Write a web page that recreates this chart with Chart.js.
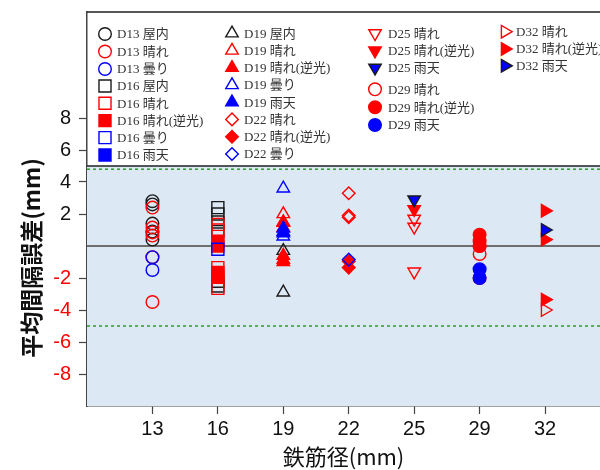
<!DOCTYPE html>
<html>
<head>
<meta charset="utf-8">
<script src="https://cdn.jsdelivr.net/npm/chart.js@4.4.0/dist/chart.umd.min.js"></script>
<style>body{margin:0;background:#fff}</style>
</head>
<body>
<canvas id="myChart" width="600" height="470"></canvas>
<script>
// Rebar diameters (x categories) and y tick labels
const sizes = ["13", "16", "19", "22", "25", "29", "32"];
const yTicks = [-8, -6, -4, -2, 2, 4, 6, 8];
const limits = [4.8, -5];

// mean spacing error (mm) per series
const d13Indoor = [2.8, 2.6, 1.4, 0.9, 0.4];
const d13Sunny = [2.4, 1.15, 0.85, 0.65, -0.7, -3.5];
const d13Cloudy = [-0.7, -1.5];
const d16Indoor = [2.4, 2.0, 1.5, 0.9, -2.2, -2.5];
const d16Sunny = [1.35, 1.0, -1.35, -2.65];
const d16Backlit = [0.3, 0.0, -1.65, -1.95];
const d16Cloudy = [-0.2];
const d16Rain = [];
const d19Indoor = [-0.3, -2.9];
const d19Sunny = [2.0, 1.5];
const d19Backlit = [1.45, 1.15, -0.6, -0.85, -1.0];
const d19Cloudy = [3.6, 0.9, 0.6];
const d19Rain = [1.1, 0.8];
const d22Sunny = [3.3, 1.9, 1.8];
const d22Backlit = [-0.95, -1.35];
const d22Cloudy = [-0.85];
const d25Sunny = [1.7, 1.2, -1.6];
const d25Backlit = [2.3];
const d25Rain = [2.9];
const d29Sunny = [0.0, -0.5, -2.0];
const d29Backlit = [0.7, 0.3, 0.0];
const d29Rain = [-1.45, -2.0];
const d32Sunny = [-4.0];
const d32Backlit = [2.2, 0.4, -3.35];
const d32Rain = [1.0];

const BLACK = "#1a1a1a", RED = "#ff0000", BLUE = "#0000ff";

// label, values, marker, rotation, colour, filled, edge
const series = [
  ["D13 屋内", d13Indoor, "circle", 0, BLACK, false],
  ["D13 晴れ", d13Sunny, "circle", 0, RED, false],
  ["D13 曇り", d13Cloudy, "circle", 0, BLUE, false],
  ["D16 屋内", d16Indoor, "rect", 0, BLACK, false],
  ["D16 晴れ", d16Sunny, "rect", 0, RED, false],
  ["D16 晴れ(逆光)", d16Backlit, "rect", 0, RED, true],
  ["D16 曇り", d16Cloudy, "rect", 0, BLUE, false],
  ["D16 雨天", d16Rain, "rect", 0, BLUE, true],
  ["D19 屋内", d19Indoor, "triangle", 0, BLACK, false],
  ["D19 晴れ", d19Sunny, "triangle", 0, RED, false],
  ["D19 晴れ(逆光)", d19Backlit, "triangle", 0, RED, true],
  ["D19 曇り", d19Cloudy, "triangle", 0, BLUE, false],
  ["D19 雨天", d19Rain, "triangle", 0, BLUE, true],
  ["D22 晴れ", d22Sunny, "rectRot", 0, RED, false],
  ["D22 晴れ(逆光)", d22Backlit, "rectRot", 0, RED, true],
  ["D22 曇り", d22Cloudy, "rectRot", 0, BLUE, false],
  ["D25 晴れ", d25Sunny, "triangle", 180, RED, false],
  ["D25 晴れ(逆光)", d25Backlit, "triangle", 180, RED, true],
  ["D25 雨天", d25Rain, "triangle", 180, BLUE, true, BLACK],
  ["D29 晴れ", d29Sunny, "circle", 0, RED, false],
  ["D29 晴れ(逆光)", d29Backlit, "circle", 0, RED, true],
  ["D29 雨天", d29Rain, "circle", 0, BLUE, true],
  ["D32 晴れ", d32Sunny, "triangle", 90, RED, false],
  ["D32 晴れ(逆光)", d32Backlit, "triangle", 90, RED, true],
  ["D32 雨天", d32Rain, "triangle", 90, BLUE, true, BLACK],
];

const radiusFor = { circle: 6.3, rect: 8.5, triangle: 7.2, rectRot: 6.3 };

const datasets = series.map((s, i) => {
  const [label, vals, style, rot, color, filled, edge] = s;
  const xi = sizes.indexOf(label.slice(1, 3)) + 1;
  return {
    label: label,
    data: vals.map((v) => ({ x: xi, y: v })),
    pointStyle: style,
    rotation: rot,
    radius: radiusFor[style],
    borderWidth: 1.4,
    borderColor: edge || color,
    backgroundColor: filled ? color : "rgba(0,0,0,0)",
    order: -i,
  };
});

// legend placement: [markerX, textX, rowYs]
const legendCols = [
  [105, 117, [34, 51.5, 69, 86, 103.3, 120.6, 137.6, 155]],
  [232, 244, [33.3, 50.5, 67.8, 85, 102.2, 119.4, 136.7, 154]],
  [375, 388, [33.3, 50.6, 67.8, 89.3, 107.2, 125]],
  [505, 516, [31.7, 49, 65.8]],
];
const legendSplit = [8, 8, 6, 3];

const boxBottom = 5.0;

const decor = {
  id: "decor",
  beforeDatasetsDraw(chart) {
    const { ctx, chartArea: a, scales: { y } } = chart;
    const yb = y.getPixelForValue(boxBottom);
    ctx.save();
    ctx.fillStyle = "#dce9f5";
    ctx.fillRect(a.left, yb, a.right - a.left, a.bottom - yb);
    ctx.strokeStyle = "#2f9a2f";
    ctx.lineWidth = 1.5;
    ctx.setLineDash([3, 3]);
    limits.forEach((v) => {
      const py = y.getPixelForValue(v);
      ctx.beginPath();
      ctx.moveTo(a.left, py);
      ctx.lineTo(a.right, py);
      ctx.stroke();
    });
    ctx.setLineDash([]);
    ctx.strokeStyle = "#6e6e6e";
    ctx.lineWidth = 2;
    const y0 = y.getPixelForValue(0);
    ctx.beginPath();
    ctx.moveTo(a.left, y0);
    ctx.lineTo(a.right, y0);
    ctx.stroke();
    ctx.restore();
  },
  afterDraw(chart) {
    const { ctx, chartArea: a, scales: { y } } = chart;
    const yb = y.getPixelForValue(boxBottom);
    ctx.save();
    ctx.strokeStyle = "#222";
    ctx.lineWidth = 1.5;
    ctx.beginPath();
    ctx.moveTo(a.left, a.top);
    ctx.lineTo(a.right, a.top);
    ctx.moveTo(a.left, yb);
    ctx.lineTo(a.right, yb);
    ctx.stroke();

    // y axis title, centred lower than the axis middle as in the original
    ctx.save();
    ctx.translate(31, 258);
    ctx.rotate(-Math.PI / 2);
    ctx.font = 'bold 23px "Noto Sans CJK JP"';
    ctx.fillStyle = "#111";
    ctx.textAlign = "center";
    ctx.textBaseline = "middle";
    ctx.fillText("平均間隔誤差(mm)", 0, 0);
    ctx.restore();

    // legend
    ctx.font = '13px "Liberation Serif", "Noto Sans CJK JP"';
    ctx.textBaseline = "middle";
    let k = 0;
    legendCols.forEach((col, c) => {
      for (let r = 0; r < legendSplit[c]; r++, k++) {
        const ds = chart.data.datasets[k];
        ctx.fillStyle = ds.backgroundColor;
        ctx.strokeStyle = ds.borderColor;
        ctx.lineWidth = 1.4;
        Chart.helpers.drawPoint(ctx, {
          pointStyle: ds.pointStyle,
          rotation: ds.rotation,
          radius: ds.radius,
          borderWidth: 1.4,
        }, col[0], col[2][r]);
        ctx.fillStyle = "#333";
        ctx.fillText(ds.label, col[1], col[2][r] + 1);
      }
    });
    ctx.restore();
  },
};

new Chart(document.getElementById("myChart"), {
  type: "scatter",
  data: { datasets: datasets },
  options: {
    responsive: false,
    animation: false,
    devicePixelRatio: 1,
    layout: { autoPadding: false, padding: { top: 12, left: 0, right: 0, bottom: 0 } },
    plugins: { legend: { display: false }, tooltip: { enabled: false } },
    scales: {
      x: {
        type: "linear",
        min: 0,
        max: 7.84,
        afterBuildTicks: (scale) => {
          scale.ticks = sizes.map((s, i) => ({ value: i + 1 }));
        },
        afterFit: (scale) => {
          scale.height = 64;
          scale.paddingLeft = 0;
          scale.paddingRight = 0;
        },
        ticks: {
          callback: (v) => sizes[v - 1],
          font: { family: "Liberation Sans", size: 20 },
          color: "#111",
          padding: 3,
          maxRotation: 0,
        },
        grid: { drawOnChartArea: false, tickLength: 8, tickColor: "#444", tickWidth: 1.2 },
        border: { color: "#444", width: 1.5 },
        title: {
          display: true,
          text: "鉄筋径(mm)",
          font: { family: "Noto Sans CJK JP", size: 22 },
          color: "#111",
          padding: { top: 0, bottom: 0 },
        },
      },
      y: {
        min: -10,
        max: 14.625,
        afterBuildTicks: (scale) => {
          scale.ticks = yTicks.map((v) => ({ value: v }));
        },
        afterFit: (scale) => {
          scale.width = 87;
          scale.paddingTop = 0;
          scale.paddingBottom = 0;
        },
        ticks: {
          font: { family: "Liberation Sans", size: 20 },
          color: (c) => (c.tick && c.tick.value < 0 ? "#ff0000" : "#111"),
          padding: 8,
        },
        grid: { drawOnChartArea: false, tickLength: 8, tickColor: "#444", tickWidth: 1.2 },
        border: { color: "#444", width: 1.5 },
      },
    },
  },
  plugins: [decor],
});
</script>
</body>
</html>
